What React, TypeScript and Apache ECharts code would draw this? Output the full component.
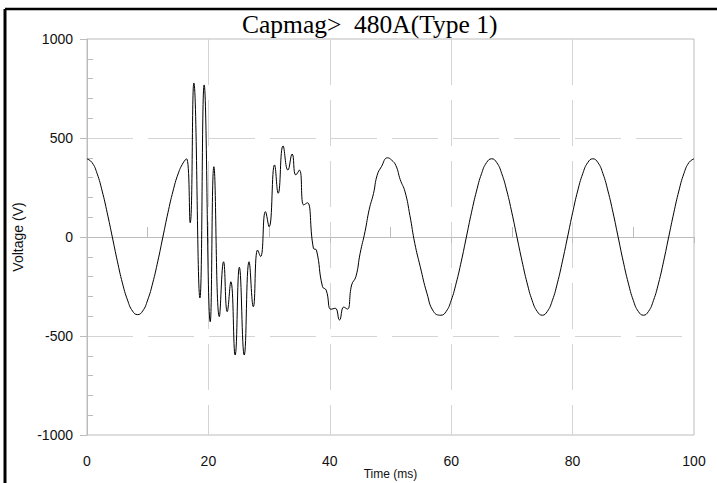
import React, { useEffect, useRef } from "react";
import * as echarts from "echarts";

const titleText = "Capmag>  480A(Type 1)";
const xName = "Time (ms)";
const yName = "Voltage (V)";

const xTicks = [0, 20, 40, 60, 80, 100];
const yTicks = [-1000, -500, 0, 500, 1000];

// time (ms)
const timeMs = [
  0, 0.83, 1.67, 2.5, 3.33, 4.17, 5.0, 5.83, 6.67, 7.5, 8.33, 9.17, 10.0, 10.83,
  11.67, 12.5, 13.33, 14.17, 15.0, 15.83, 16.4, 17.0, 17.6, 18.6, 19.3, 20.3,
  20.9, 21.8, 22.5, 23.1, 23.7, 24.4, 25.1, 25.9, 26.7, 27.4, 28.1, 28.6, 29.4,
  30.0, 30.9, 31.5, 32.3, 33.1, 33.8, 34.4, 35.0, 35.7, 36.3, 37.3, 37.8, 38.8,
  39.4, 40.2, 40.9, 41.6, 42.3, 42.9, 43.6, 44.3, 45.0, 45.8, 46.5, 47.2, 47.8,
  48.5, 49.5, 50.2, 50.9, 51.6, 52.4, 53.2, 54.0, 54.9, 56.0, 57.1, 58.3, 59.17,
  60.0, 60.83, 61.67, 62.5, 63.33, 64.17, 65.0, 65.83, 66.67, 67.5, 68.33,
  69.17, 70.0, 70.83, 71.67, 72.5, 73.33, 74.17, 75.0, 75.83, 76.67, 77.5,
  78.33, 79.17, 80.0, 80.83, 81.67, 82.5, 83.33, 84.17, 85.0, 85.83, 86.67,
  87.5, 88.33, 89.17, 90.0, 90.83, 91.67, 92.5, 93.33, 94.17, 95.0, 95.83,
  96.67, 97.5, 98.33, 99.17, 100,
];

// voltage (V)
const voltage = [
  395, 376, 320, 232, 122, 0, -122, -232, -318, -374, -392, -374, -318, -232,
  -122, 0, 122, 232, 318, 374, 395, 72, 778, -308, 768, -428,
  355, -402, -125, -377, -226, -596, -153, -596, -125, -352, -66, -99, 128,
  52, 364, 221, 460, 338, 419, 313, 338, 162, 173, -57, -66, -251,
  -268, -365, -360, -419, -354, -364, -242, -200, -82, 27, 140, 220, 312,
  355, 400, 388, 360, 290, 228, 108, -32, -150, -284, -377, -395, -376,
  -320, -232, -122, 0, 122, 232, 320, 376, 395, 376, 320,
  232, 122, 0, -122, -232, -320, -376, -395, -376, -320, -232,
  -122, 0, 122, 232, 320, 376, 395, 376, 320, 232, 122,
  0, -122, -232, -320, -376, -395, -376, -320, -232, -122, 0,
  122, 232, 320, 376, 395,
];

const GRID_COLOR = "#d4d4d4";
const AXIS_COLOR = "#bcbcbc";

export default function App() {
  const ref = useRef<HTMLDivElement>(null);

  useEffect(() => {
    if (!ref.current) return;
    const chart = echarts.init(ref.current, null, { renderer: "svg" });
    const data = timeMs.map((t, i) => [t, voltage[i]]);
    const xMin = xTicks[0];
    const xMax = xTicks[xTicks.length - 1];
    const xInt = xTicks[1] - xTicks[0];
    const yMin = yTicks[0];
    const yMax = yTicks[yTicks.length - 1];
    const yInt = yTicks[1] - yTicks[0];
    const labelFont = {
      fontFamily: "Liberation Sans, Arial, sans-serif",
      fontSize: 14,
      color: "#111",
    };
    const plain = (v: number) => String(v);

    chart.setOption({
      animation: false,
      backgroundColor: "#fff",
      title: {
        text: titleText,
        left: 237,
        top: 6,
        textStyle: {
          fontFamily: "Liberation Serif, Times New Roman, serif",
          fontSize: 25.5,
          fontWeight: "normal",
          color: "#000",
        },
      },
      grid: {
        left: 87,
        right: 23,
        top: 39,
        bottom: 48,
        outerBoundsMode: "none",
        containLabel: false,
        show: true,
        borderColor: AXIS_COLOR,
        borderWidth: 1,
        backgroundColor: "transparent",
      },
      xAxis: [
        {
          type: "value",
          min: xMin,
          max: xMax,
          interval: xInt,
          name: xName,
          nameLocation: "middle",
          nameGap: 33,
          nameMoveOverlap: false,
          nameTextStyle: { ...labelFont, fontSize: 12 },
          axisLine: { show: true, lineStyle: { color: AXIS_COLOR, width: 1 } },
          axisTick: { show: true, length: 6, lineStyle: { color: AXIS_COLOR } },
          axisLabel: { ...labelFont, margin: 19, formatter: plain },
          splitLine: {
            show: true,
            showMinLine: false,
            showMaxLine: false,
            lineStyle: { color: GRID_COLOR, width: 1, type: [46, 15] },
          },
        },
        {
          type: "value",
          position: "bottom",
          min: xMin,
          max: xMax,
          interval: xInt,
          axisLine: { show: false },
          axisTick: { show: false, inside: true },
          axisLabel: { show: false },
          splitLine: { show: false },
          minorTick: {
            show: true,
            splitNumber: 2,
            length: 10,
            lineStyle: { color: AXIS_COLOR, width: 1 },
          },
        },
      ],
      yAxis: [
        {
          type: "value",
          min: yMin,
          max: yMax,
          interval: yInt,
          name: yName,
          nameLocation: "middle",
          nameGap: 62,
          nameRotate: 90,
          nameMoveOverlap: false,
          nameTextStyle: { ...labelFont, fontSize: 14 },
          axisLine: { show: true, lineStyle: { color: AXIS_COLOR, width: 1 } },
          axisTick: { show: true, length: 7, lineStyle: { color: AXIS_COLOR } },
          axisLabel: { ...labelFont, margin: 14, formatter: plain },
          splitLine: {
            show: true,
            showMinLine: false,
            showMaxLine: false,
            lineStyle: { color: GRID_COLOR, width: 1, type: [46, 15] },
          },
        },
        {
          type: "value",
          position: "left",
          min: yMin,
          max: yMax,
          interval: yInt,
          axisLine: { show: false },
          axisTick: { show: false, inside: true },
          axisLabel: { show: false },
          splitLine: { show: false },
          minorTick: {
            show: true,
            splitNumber: 5,
            length: 6,
            lineStyle: { color: AXIS_COLOR, width: 1 },
          },
        },
      ],
      series: [
        {
          type: "line",
          data,
          xAxisIndex: 0,
          yAxisIndex: 0,
          smooth: 0.5,
          showSymbol: false,
          lineStyle: { color: "#000", width: 1 },
          z: 5,
        },
      ],
      graphic: [
        {
          type: "line",
          shape: { x1: 5, y1: 9, x2: 5, y2: 483 },
          style: { stroke: "#000", lineWidth: 3 },
          silent: true,
        },
        {
          type: "line",
          shape: { x1: 5, y1: 9, x2: 717, y2: 9 },
          style: { stroke: "#000", lineWidth: 2.5 },
          silent: true,
        },
      ],
    });

    return () => {
      chart.dispose();
    };
  }, []);

  return (
    <div
      ref={ref}
      style={{
        position: "absolute",
        left: 0,
        top: 0,
        width: 717,
        height: 483,
        background: "#fff",
      }}
    />
  );
}
